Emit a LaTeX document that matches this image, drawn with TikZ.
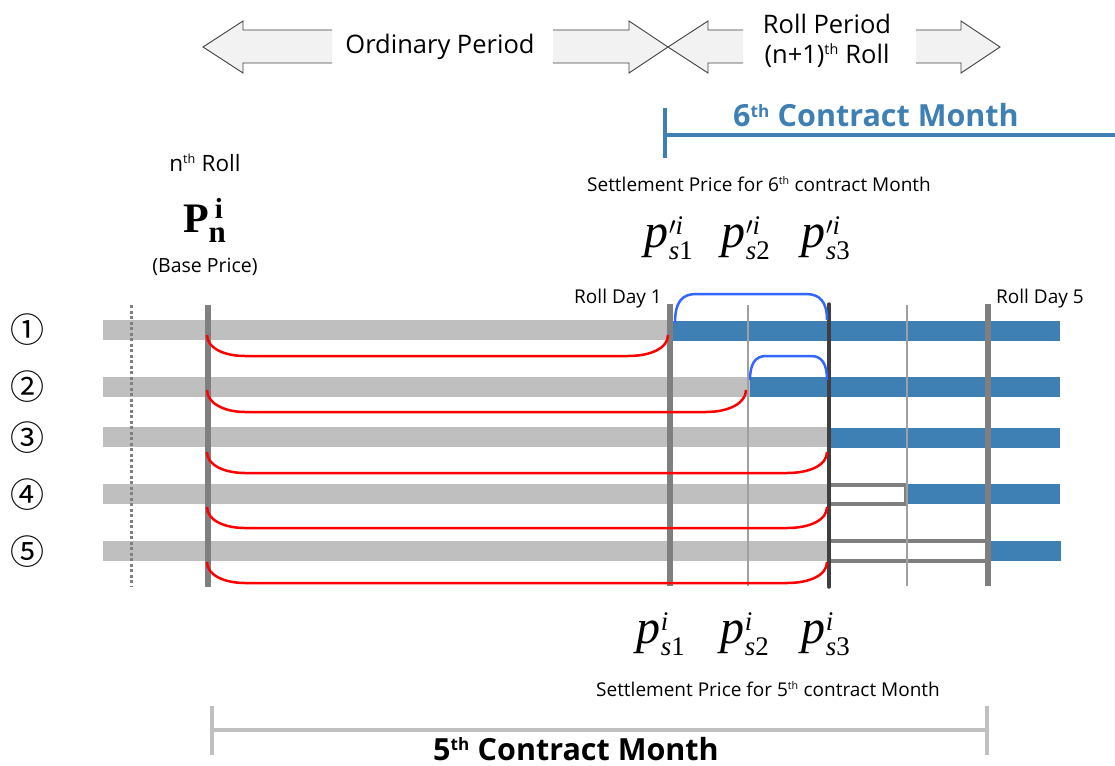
\documentclass[tikz,border=0pt]{standalone}
\usepackage{fontspec}
\usepackage{amsmath}
\newfontfamily\os{Open Sans}
\newfontfamily\cjk{Noto Sans CJK JP}
\newfontfamily\tms{Liberation Serif}
\renewcommand\defaultscriptratio{.56}
\definecolor{barg}{HTML}{BFBFBF}
\definecolor{barb}{HTML}{3E7FB4}
\definecolor{vg}{HTML}{7F7F7F}
\definecolor{thing}{HTML}{A0A0A0}
\definecolor{darkv}{HTML}{3F3F3F}
\definecolor{curvb}{HTML}{3366FF}
\definecolor{arrfill}{HTML}{F2F2F2}
\definecolor{arredge}{HTML}{404040}
\definecolor{monthg}{HTML}{C0C0C0}
\newcommand\fs[1]{\fontsize{#1}{#1}\selectfont}
\newcommand\pv[2]{$\text{\tms\itshape p}#1^{\text{\tms\itshape i}}_{\text{\tms\itshape s}\text{\tms #2}}$}
\begin{document}
\begin{tikzpicture}[x=1pt,y=-1pt,
  gbar/.style={fill=barg,draw=none},
  bbar/.style={fill=barb,draw=none},
  hollow/.style={fill=white,draw=vg,line width=3.5},
  thickv/.style={draw=vg,line width=6},
  thinv/.style={draw=thing,line width=2},
  darkline/.style={draw=darkv,line width=3.5,line cap=round},
  redc/.style={draw=red,line width=2.5},
  bluec/.style={draw=curvb,line width=2.5},
  arrowshape/.style={fill=arrfill},
  arrowedge/.style={draw=arredge,line width=0.9,line join=miter},
  lbl/.style={inner sep=0pt,font=\os\fs{#1}},
  lbl/.default=19,
  pval/.style={inner sep=0pt,font=\fs{48}},
  circnum/.style={inner sep=0pt,font=\cjk\fs{34}}
]
\useasboundingbox (0,0) rectangle (1115,765);

% ---------- top period arrows ----------
\fill[arrowshape] (332,30) -- (243,30) -- (243,21) -- (203,47) -- (243,73) -- (243,63) -- (332,63) -- cycle;
\draw[arrowedge] (332,30) -- (243,30) -- (243,21) -- (203,47) -- (243,73) -- (243,63) -- (332,63);
\fill[arrowshape] (553,30) -- (629,30) -- (629,21) -- (668,47) -- (629,73) -- (629,63) -- (553,63) -- cycle;
\draw[arrowedge] (553,30) -- (629,30) -- (629,21) -- (668,47) -- (629,73) -- (629,63) -- (553,63);
\fill[arrowshape] (743,30) -- (708,30) -- (708,21) -- (668,47) -- (708,73) -- (708,63) -- (743,63) -- cycle;
\draw[arrowedge] (743,30) -- (708,30) -- (708,21) -- (668,47) -- (708,73) -- (708,63) -- (743,63);
\fill[arrowshape] (916,30) -- (961,30) -- (961,21) -- (1000,47) -- (961,73) -- (961,63) -- (916,63) -- cycle;
\draw[arrowedge] (916,30) -- (961,30) -- (961,21) -- (1000,47) -- (961,73) -- (961,63) -- (916,63);
\node[lbl=25.5] (ord) at (440,47) {Ordinary Period};
\node[lbl=25.5] (rollp) at (827,24) {Roll Period};
\node[lbl=25.5] (rolln) at (827,56) {(n+1)\textsuperscript{th} Roll};

% ---------- 6th contract month ----------
\draw[draw=barb,line width=4] (665,108) -- (665,158);
\draw[draw=barb,line width=4] (665,135) -- (1115,135);
\node[inner sep=0pt,anchor=base,text=barb,font=\os\bfseries\fs{30.5}] (six) at (876,127) {6\textsuperscript{th} Contract Month};
\node[lbl] (set6) at (759,184) {Settlement Price for 6\textsuperscript{th} contract Month};

% ---------- base price ----------
\node[lbl=22.5] (nroll) at (205,163) {n\textsuperscript{th} Roll};
\node[inner sep=0pt] (base) at (203,220) {\tms\bfseries\fs{42}P\kern0pt\raisebox{-10pt}{\fs{31}n}\kern-11pt\raisebox{14pt}{\fs{29}i}};
\node[lbl=19.5] (bp) at (205,267) {(Base Price)};

% ---------- settlement prices ----------
\node[pval] (q1) at (669,238) {\pv{'}{1}};
\node[pval] (q2) at (746,238) {\pv{'}{2}};
\node[pval] (q3) at (826,238) {\pv{'}{3}};
\node[pval] (p1) at (661,634) {\pv{}{1}};
\node[pval] (p2) at (745,634) {\pv{}{2}};
\node[pval] (p3) at (826,634) {\pv{}{3}};
\node[lbl] (set5) at (768,689) {Settlement Price for 5\textsuperscript{th} contract Month};

% ---------- row numbers ----------
\node[circnum] (r1) at (27,330) {①};
\node[circnum] (r2) at (27,387) {②};
\node[circnum] (r3) at (27,438) {③};
\node[circnum] (r4) at (27,495) {④};
\node[circnum] (r5) at (27,552) {⑤};

% ---------- bars ----------
\fill[gbar] (103,320) rectangle (670,340);
\fill[bbar] (670,321) rectangle (1060,341);
\fill[gbar] (103,377) rectangle (750,397);
\fill[bbar] (750,377) rectangle (1060,397);
\fill[gbar] (103,427) rectangle (829,447);
\fill[bbar] (829,428) rectangle (1060,448);
\fill[gbar] (103,484) rectangle (829,504);
\draw[hollow] (829,485) rectangle (906,504);
\fill[bbar] (907,484) rectangle (1060,504);
\fill[gbar] (103,541) rectangle (829,561);
\draw[hollow] (829,541) rectangle (987,561);
\fill[bbar] (988,541) rectangle (1061,561);

% ---------- vertical lines ----------
\draw[draw=vg,line width=3,dash pattern=on 3 off 2.5] (131,305) -- (131,587);
\draw[thickv] (208,305) -- (208,587);
\draw[thickv] (670,304) -- (670,586);
\draw[thinv] (748,305) -- (748,586);
\draw[thinv] (907,305) -- (907,586);
\draw[thickv] (988,304) -- (988,586);
\draw[darkline] (829,304) -- (829,587);
\node[lbl,anchor=east] (rd1) at (662,299) {Roll Day 1};
\node[lbl,anchor=west] (rd5) at (996,299) {Roll Day 5};

% ---------- red curves ----------
\foreach \xe/\yt/\yb in {668/335/356, 746/390/412, 827/452/473, 827/507/528, 827/562/583}{
  \draw[redc] (207,\yt) .. controls (207,\yt+13) and (224,\yb) .. (245,\yb) -- (\xe-40,\yb) .. controls (\xe-17,\yb) and (\xe,\yt+13) .. (\xe,\yt);
}
% ---------- blue curves ----------
\draw[bluec] (675,323) .. controls (675,302) and (682,294) .. (696,294) -- (806,294) .. controls (820,294) and (827,302) .. (827,320);
\draw[bluec] (750,380) .. controls (750,364) and (755,356) .. (766,356) -- (811,356) .. controls (822,356) and (827,364) .. (827,380);

% ---------- 5th contract month ----------
\draw[draw=monthg,line width=4] (212,706) -- (212,755);
\draw[draw=monthg,line width=4] (987,706) -- (987,755);
\draw[draw=monthg,line width=4] (212,730) -- (987,730);
\node[inner sep=0pt,anchor=base,font=\os\bfseries\fs{30.5}] (five) at (576,760) {5\textsuperscript{th} Contract Month};
\end{tikzpicture}
\end{document}
